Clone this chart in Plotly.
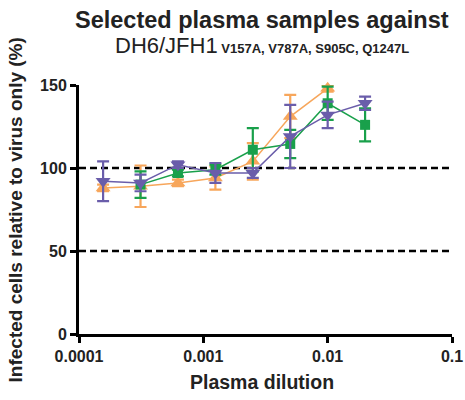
import plotly.graph_objects as go

# ---- data ----
dilution = [1/6400, 1/3200, 1/1600, 1/800, 1/400, 1/200, 1/100, 1/50]

purple_y = [92, 91, 102, 97, 97, 119, 132, 139]
purple_err = [12, 5, 2, 6, 3, 19, 8, 4]

orange_x = dilution[:7]
orange_y = [88, 89, 91, 94, 104, 131, 148]
orange_err = [2, 12.5, 2, 7, 11, 13, 2]

green_x = dilution[1:]
green_y = [90, 97, 99, 111, 114.5, 139, 126]
green_err = [8, 2, 3, 13, 8.5, 10, 10]

x_ticks = [0.0001, 0.001, 0.01, 0.1]
x_ticklabels = ["0.0001", "0.001", "0.01", "0.1"]
y_ticks = [0, 50, 100, 150]

PURPLE = "#6a5daa"
ORANGE = "#f7a65b"
GREEN = "#19a04b"
FONT = "Arial, Liberation Sans, sans-serif"

fig = go.Figure()

def add_series(x, y, err, color, symbol, size):
    fig.add_trace(go.Scatter(
        x=x, y=y, mode="lines+markers",
        line=dict(color=color, width=1.5),
        marker=dict(symbol=symbol, size=size, color=color),
        error_y=dict(type="data", array=err, visible=True,
                     color=color, thickness=2.2, width=6),
        cliponaxis=False, showlegend=False,
    ))

add_series(orange_x, orange_y, orange_err, ORANGE, "triangle-up", 13)
add_series(green_x, green_y, green_err, GREEN, "square", 10)
add_series(dilution, purple_y, purple_err, PURPLE, "triangle-down", 13)

for yv in (100, 50):
    fig.add_shape(type="line", xref="paper", x0=0, x1=1, yref="y", y0=yv, y1=yv,
                  line=dict(color="black", width=2.5, dash="7px,4px"), layer="below")

fig.update_xaxes(
    type="log", range=[-4, -1], automargin=False,
    tickvals=x_ticks, ticktext=x_ticklabels,
    showline=True, linecolor="black", linewidth=3,
    ticks="outside", ticklen=6, tickwidth=3, tickcolor="black",
    tickfont=dict(family=FONT, size=16, color="#222", weight="bold"),
    showgrid=False, zeroline=False,
)
fig.update_yaxes(
    range=[0, 150], tickvals=y_ticks, automargin=False,
    showline=True, linecolor="black", linewidth=3,
    ticks="outside", ticklen=6, tickwidth=3, tickcolor="black",
    tickfont=dict(family=FONT, size=16, color="#222", weight="bold"),
    showgrid=False, zeroline=False,
)

fig.add_annotation(
    text="Selected plasma samples against", xref="paper", yref="paper",
    x=0.49, y=1.261, xanchor="center", yanchor="middle", showarrow=False,
    font=dict(family=FONT, size=23.5, color="#222", weight="bold"),
)
fig.add_annotation(
    text="DH6/JFH1<b><span style='font-size:13px'> V157A, V787A, S905C, Q1247L</span></b>",
    xref="paper", yref="paper",
    x=0.49, y=1.157, xanchor="center", yanchor="middle", showarrow=False,
    font=dict(family=FONT, size=22, color="#222"),
)
fig.add_annotation(
    text="Infected cells relative to virus only (%)", xref="paper", yref="paper",
    x=-0.169, y=0.5, xanchor="center", yanchor="middle", textangle=-90, showarrow=False,
    font=dict(family=FONT, size=19, color="#222", weight="bold"),
)
fig.add_annotation(
    text="Plasma dilution", xref="paper", yref="paper",
    x=0.49, y=-0.193, xanchor="center", yanchor="middle", showarrow=False,
    font=dict(family=FONT, size=19.5, color="#222", weight="bold"),
)

fig.update_layout(
    width=465, height=400,
    margin=dict(l=79, r=13, t=85, b=66),
    plot_bgcolor="white", paper_bgcolor="white",
)

fig.write_html("out.html", config={"displayModeBar": False},
               post_script="document.body.style.margin='0';")
